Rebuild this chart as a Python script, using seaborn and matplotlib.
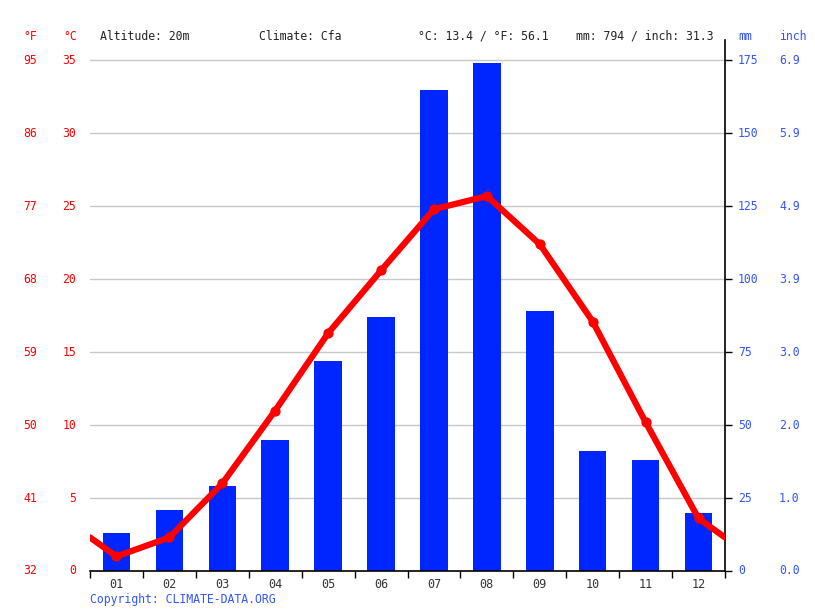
import numpy as np
import pandas as pd
import matplotlib
matplotlib.use("Agg")
import matplotlib.pyplot as plt
import matplotlib.transforms as mtransforms
import seaborn as sns

months = ["01", "02", "03", "04", "05", "06", "07", "08", "09", "10", "11", "12"]
temp_c = [1.0, 2.3, 6.0, 11.0, 16.3, 20.6, 24.8, 25.7, 22.4, 17.1, 10.2, 3.6]
precip_mm = [13, 21, 29, 45, 72, 87, 165, 174, 89, 41, 38, 20]

c_ticks = [0, 5, 10, 15, 20, 25, 30, 35]
f_labels = ["32", "41", "50", "59", "68", "77", "86", "95"]
mm_ticks = [0, 25, 50, 75, 100, 125, 150, 175]
inch_labels = ["0.0", "1.0", "2.0", "3.0", "3.9", "4.9", "5.9", "6.9"]

header_left = ["Altitude: 20m", "Climate: Cfa"]
header_right = ["°C: 13.4 / °F: 56.1", "mm: 794 / inch: 31.3"]
copyright_text = "Copyright: CLIMATE-DATA.ORG"

RED = "#ff0000"
BLUE_BAR = "#0026ff"
BLUE_TXT = "#3355ff"
FONT = "DejaVu Sans Mono"

sns.set_theme(style="white")
plt.rcParams["font.family"] = [FONT, "DejaVu Sans"]

W, H = 815, 611
fig = plt.figure(figsize=(W / 100, H / 100), dpi=100)
x0, x1, y_bot, y_top = 90, 725, 571, 40
ax = fig.add_axes([x0 / W, 1 - y_bot / H, (x1 - x0) / W, (y_bot - y_top) / H])

MM_TOP = 182
ax.set_ylim(0, MM_TOP)

df_p = pd.DataFrame({"month": months, "mm": precip_mm})
sns.barplot(data=df_p, x="month", y="mm", ax=ax, color=BLUE_BAR, saturation=1,
            width=0.52, linewidth=0, zorder=2)

for t in mm_ticks[1:]:
    ax.axhline(t, color="#c8c8c8", lw=1.0, zorder=1)

# temperature line on twin axis
ax2 = ax.twinx()
ax2.set_ylim(0, MM_TOP / 5)
edge = (temp_c[0] + temp_c[-1]) / 2
df_line = pd.DataFrame({"x": [-0.5] + list(range(12)) + [11.5],
                        "t": [edge] + temp_c + [edge]})
sns.lineplot(data=df_line, x="x", y="t", ax=ax2, color=RED, lw=4.5, sort=False, zorder=5)
df_pts = pd.DataFrame({"x": list(range(12)), "t": temp_c})
sns.scatterplot(data=df_pts, x="x", y="t", ax=ax2, color=RED, s=55, linewidth=0, zorder=6)
ax2.set_xlim(-0.5, 11.5)
ax2.set_xlabel("")
ax2.set_ylabel("")
ax2.set_yticks([])
ax2.tick_params(axis="y", left=False, right=False, labelleft=False, labelright=False)
for s in ax2.spines.values():
    s.set_visible(False)

ax.set_xlim(-0.5, 11.5)
ax.set_xlabel("")
ax.set_ylabel("")
ax.set_xticks(np.arange(12))
ax.set_xticklabels(months, fontsize=8.5, color="#333333", family=FONT)
ax.set_xticks(np.arange(-0.5, 12, 1), minor=True)
ax.tick_params(axis="x", which="major", length=0, pad=5)
ax.tick_params(axis="x", which="minor", length=5, width=1, color="black", direction="out", bottom=True)
ax.set_yticks(mm_ticks)
ax.yaxis.set_ticks_position("right")
ax.tick_params(axis="y", which="major", length=5, width=1, color="black", direction="out",
               right=True, labelright=False, left=False, labelleft=False)
for s in ["left", "top"]:
    ax.spines[s].set_visible(False)
ax.spines["bottom"].set_color("black")
ax.spines["right"].set_color("black")
ax.spines["bottom"].set_linewidth(1.2)
ax.spines["right"].set_linewidth(1.2)

# tick labels
fs = 8.3
trans_c = mtransforms.blended_transform_factory(fig.transFigure, ax2.transData)
trans_mm = mtransforms.blended_transform_factory(fig.transFigure, ax.transData)
for c, f in zip(c_ticks, f_labels):
    ax2.text(37 / W, c, f, transform=trans_c, ha="right", va="center", color=RED, fontsize=fs)
    ax2.text(76 / W, c, str(c), transform=trans_c, ha="right", va="center", color=RED, fontsize=fs)
for m, i in zip(mm_ticks, inch_labels):
    ax.text(738 / W, m, str(m), transform=trans_mm, ha="left", va="center", color=BLUE_TXT, fontsize=fs)
    ax.text(779 / W, m, i, transform=trans_mm, ha="left", va="center", color=BLUE_TXT, fontsize=fs)

hy = 1 - 36 / H
fig.text(37 / W, hy, "°F", ha="right", va="center", color=RED, fontsize=fs)
fig.text(77 / W, hy, "°C", ha="right", va="center", color=RED, fontsize=fs)
fig.text(100 / W, hy, header_left[0], ha="left", va="center", color="#222222", fontsize=fs)
fig.text(259 / W, hy, header_left[1], ha="left", va="center", color="#222222", fontsize=fs)
fig.text(418 / W, hy, header_right[0], ha="left", va="center", color="#222222", fontsize=fs)
fig.text(576 / W, hy, header_right[1], ha="left", va="center", color="#222222", fontsize=fs)
fig.text(738 / W, hy, "mm", ha="left", va="center", color=BLUE_TXT, fontsize=fs)
fig.text(779 / W, hy, "inch", ha="left", va="center", color=BLUE_TXT, fontsize=fs)
fig.text(90 / W, 1 - 600 / H, copyright_text, ha="left", va="center", color=BLUE_TXT, fontsize=fs)

fig.savefig("out.png", dpi=100, facecolor="white")
